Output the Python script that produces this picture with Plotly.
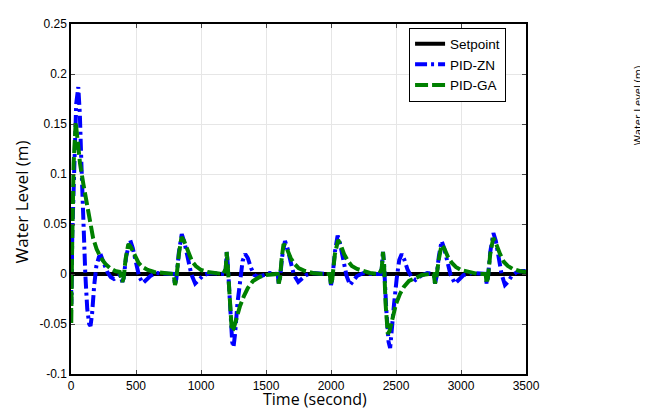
import plotly.graph_objects as go

# ---- data ----
t_sp = [0, 3500]
setpoint = [0, 0]

t_zn = [0, 3, 10, 25, 40, 56, 68, 80, 95, 110, 125, 140, 150, 162, 178, 195, 215, 232, 255, 280,
        305, 330, 355, 380, 395, 405, 425, 455, 475, 500, 525, 553, 580, 610, 650, 700, 760, 790,
        800, 810, 830, 852, 872, 900, 925, 955, 985, 1020, 1070, 1130, 1180, 1190, 1198, 1206,
        1222, 1240, 1250, 1262, 1280, 1300, 1320, 1340, 1360, 1385, 1410, 1440, 1480, 1530, 1590,
        1598, 1608, 1625, 1646, 1665, 1690, 1715, 1748, 1775, 1810, 1860, 1930, 1990, 2000, 2010,
        2030, 2051, 2070, 2095, 2120, 2146, 2170, 2200, 2250, 2310, 2380, 2390, 2400, 2408, 2425,
        2443, 2455, 2467, 2485, 2505, 2525, 2544, 2565, 2590, 2620, 2650, 2690, 2740, 2790, 2800,
        2810, 2830, 2851, 2870, 2895, 2920, 2954, 2980, 3020, 3080, 3150, 3190, 3197, 3207, 3225,
        3249, 3268, 3290, 3312, 3338, 3360, 3390, 3430, 3470, 3500]
pid_zn = [0.0, -0.03, 0.04, 0.12, 0.17, 0.187, 0.16, 0.11, 0.05, 0.0, -0.035, -0.05, -0.052, -0.04,
          -0.012, 0.008, 0.017, 0.018, 0.01, 0.002, -0.003, -0.005, -0.003, -0.001, -0.008, -0.004,
          0.018, 0.034, 0.026, 0.01, -0.003, -0.009, -0.006, -0.002, 0.001, 0.001, 0.0, 0.0,
          -0.011, -0.005, 0.022, 0.04, 0.032, 0.015, 0.0, -0.0095, -0.006, -0.001, 0.001, 0.0, 0.0,
          0.005, 0.022, 0.01, -0.035, -0.068, -0.073, -0.06, -0.03, -0.005, 0.013, 0.02, 0.016,
          0.006, -0.001, -0.003, -0.001, 0.001, 0.0, -0.0095, -0.004, 0.018, 0.033, 0.026, 0.012,
          -0.001, -0.008, -0.005, -0.001, 0.001, 0.0, 0.0, -0.011, -0.005, 0.022, 0.0385, 0.03,
          0.013, -0.002, -0.011, -0.007, -0.002, 0.001, 0.0, 0.0, 0.005, 0.022, 0.01, -0.035,
          -0.068, -0.074, -0.06, -0.03, -0.005, 0.014, 0.02, 0.014, 0.004, -0.003, -0.006, -0.002,
          0.001, 0.0, -0.0095, -0.004, 0.018, 0.033, 0.026, 0.012, -0.001, -0.0095, -0.006, -0.001,
          0.001, 0.0, 0.0, -0.0095, -0.004, 0.022, 0.041, 0.033, 0.015, 0.0, -0.011, -0.008,
          -0.002, 0.002, 0.003, 0.003]

t_ga = [0, 2, 8, 20, 36, 50, 70, 95, 120, 146, 170, 197, 230, 265, 300, 340, 375, 395, 405, 420,
        441, 460, 490, 520, 550, 590, 640, 700, 760, 790, 800, 810, 830, 850, 870, 900, 930, 960,
        1000, 1050, 1110, 1170, 1190, 1198, 1205, 1220, 1237, 1250, 1270, 1300, 1330, 1360, 1400,
        1450, 1500, 1560, 1590, 1598, 1608, 1620, 1635, 1655, 1690, 1720, 1750, 1800, 1860, 1930,
        1990, 2000, 2010, 2030, 2055, 2075, 2100, 2130, 2160, 2200, 2250, 2300, 2370, 2390, 2400,
        2408, 2420, 2437, 2450, 2470, 2500, 2530, 2560, 2600, 2650, 2700, 2760, 2790, 2800, 2810,
        2830, 2850, 2870, 2900, 2930, 2960, 3000, 3060, 3130, 3190, 3197, 3207, 3225, 3248, 3268,
        3300, 3330, 3360, 3400, 3450, 3500]
pid_ga = [0.0, -0.05, 0.02, 0.11, 0.152, 0.135, 0.11, 0.09, 0.07, 0.05, 0.036, 0.025, 0.016, 0.01,
          0.006, 0.003, 0.002, -0.008, -0.004, 0.015, 0.03, 0.027, 0.018, 0.011, 0.007, 0.004,
          0.002, 0.001, 0.0, 0.0, -0.011, -0.005, 0.02, 0.037, 0.033, 0.022, 0.013, 0.008, 0.004,
          0.002, 0.001, 0.0, 0.005, 0.022, 0.01, -0.03, -0.057, -0.055, -0.045, -0.032, -0.022,
          -0.014, -0.007, -0.003, -0.001, 0.0, 0.0, -0.0095, -0.004, 0.015, 0.03, 0.027, 0.016,
          0.01, 0.006, 0.003, 0.001, 0.0, 0.0, -0.011, -0.005, 0.02, 0.034, 0.029, 0.02, 0.013,
          0.008, 0.005, 0.003, 0.001, 0.0, 0.005, 0.022, 0.01, -0.03, -0.06, -0.057, -0.045, -0.03,
          -0.02, -0.013, -0.007, -0.004, -0.001, 0.0, 0.0, -0.0095, -0.004, 0.015, 0.029, 0.026,
          0.017, 0.011, 0.007, 0.004, 0.002, 0.0, 0.0, -0.0095, -0.004, 0.02, 0.036, 0.031, 0.02,
          0.012, 0.008, 0.005, 0.003, 0.002]

x_ticks = [0, 500, 1000, 1500, 2000, 2500, 3000, 3500]
y_ticks = [-0.1, -0.05, 0, 0.05, 0.1, 0.15, 0.2, 0.25]
y_tick_text = ["-0.1", "-0.05", "0", "0.05", "0.1", "0.15", "0.2", "0.25"]

fig = go.Figure()
fig.add_trace(go.Scatter(x=t_sp, y=setpoint, mode="lines", name="Setpoint",
                         line=dict(color="black", width=4)))
fig.add_trace(go.Scatter(x=t_zn, y=pid_zn, mode="lines", name="PID-ZN",
                         line=dict(color="#0000ff", width=4, dash="12px,4px,3px,4px")))
fig.add_trace(go.Scatter(x=t_ga, y=pid_ga, mode="lines", name="PID-GA",
                         line=dict(color="#008000", width=4, dash="13px,4px")))

tickfont = dict(family="Liberation Sans, Arial", size=12, color="black")
fig.update_xaxes(range=[0, 3500], tickvals=x_ticks, ticks="inside", ticklen=4,
                 showline=True, linecolor="black", linewidth=1.5, mirror="ticks",
                 showgrid=True, gridcolor="#e6e6e6", gridwidth=1, zeroline=False,
                 tickfont=tickfont)
fig.update_yaxes(range=[-0.1, 0.25], tickvals=y_ticks, ticktext=y_tick_text, ticks="inside",
                 ticklen=4, showline=True, linecolor="black", linewidth=1.5, mirror="ticks",
                 showgrid=True, gridcolor="#e6e6e6", gridwidth=1, zeroline=False,
                 tickfont=tickfont)

# page body has an 8px margin, so the figure is shrunk/offset accordingly
fig.update_layout(
    width=640, height=401, autosize=False,
    margin=dict(l=63, r=122, t=9, b=35),
    plot_bgcolor="white", paper_bgcolor="white",
    legend=dict(x=0.743, y=0.99, xanchor="left", yanchor="top",
                bgcolor="white", bordercolor="black", borderwidth=1,
                font=dict(family="Liberation Sans, Arial", size=13.5, color="black"),
                tracegroupgap=0),
    annotations=[
        dict(text="Time (second)", xref="paper", yref="paper", x=(315 - 71) / 455,
             y=-(400 - 374) / 357, xanchor="center", yanchor="middle", showarrow=False,
             font=dict(family="Open Sans", size=16, color="black")),
        dict(text="Water Level (m)", xref="paper", yref="paper", x=-(71 - 21) / 455,
             y=(374 - 199) / 357, xanchor="center", yanchor="middle", showarrow=False,
             textangle=-90, font=dict(family="Open Sans", size=17, color="black")),
        dict(text="Water Level (m)", xref="paper", yref="paper", x=(637 - 71) / 455,
             y=(374 - 100) / 357, xanchor="center", yanchor="middle", showarrow=False,
             textangle=-90, font=dict(family="Open Sans", size=11, color="black")),
    ],
)

fig.write_html("out.html")
